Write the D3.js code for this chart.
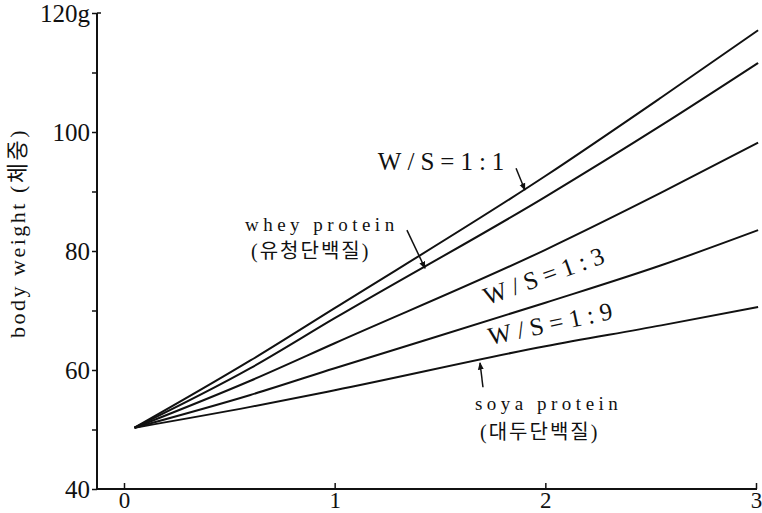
<!DOCTYPE html>
<html>
<head>
<meta charset="utf-8">
<script src="https://cdn.jsdelivr.net/npm/d3@7"></script>
<style>
  body { margin: 0; background: #fff; }
  svg text { font-family: "Liberation Serif", "Noto Sans CJK KR", serif; fill: #111; }
</style>
</head>
<body>
<div id="chart"></div>
<script>
// values
const weeks = [0.05, 0.6, 1, 2, 2.55, 3.01];
const wsOneOne = [50.3, 61.6, 70.4, 92.6, 105.8, 117.1];
const wheyProtein = [50.3, 60.3, 68.7, 89.1, 101.1, 111.6];
const wsOneThree = [50.3, 58.2, 64.5, 80.2, 89.8, 98.2];
const wsOneNine = [50.3, 55.8, 60.3, 71.3, 77.6, 83.5];
const soyaProtein = [50.3, 53.8, 56.6, 64.0, 67.5, 70.6];

const xTicks = [0, 1, 2, 3];
const yTicks = [40, 50, 60, 70, 80, 90, 100, 110, 120];
const yTickLabels = ["40", "", "60", "", "80", "", "100", "", "120g"];

const WIDTH = 762;
const HEIGHT = 513;

const svg = d3.select("#chart").append("svg")
  .attr("width", WIDTH)
  .attr("height", HEIGHT);

const x = d3.scaleLinear().domain([0, 3]).range([124, 756]);
const y = d3.scaleLinear().domain([40, 120]).range([489, 13]);

// y axis
const yAxis = svg.append("g")
  .attr("transform", "translate(97,0)")
  .call(d3.axisLeft(y).tickValues(yTicks).tickSize(5).tickSizeOuter(0)
    .tickFormat((d, i) => yTickLabels[i]));
yAxis.select(".domain").attr("stroke", "#111").attr("stroke-width", 2)
  .attr("d", `M0,${y(120)}V${y(40)}`);
yAxis.selectAll(".tick line").attr("stroke", "#111").attr("stroke-width", 1.5);
yAxis.selectAll(".tick text")
  .attr("x", -7)
  .attr("font-size", 25)
  .attr("font-family", "Liberation Serif")
  .attr("fill", "#111");
yAxis.append("line").attr("x1", 0).attr("x2", 4)
  .attr("y1", y(120)).attr("y2", y(120)).attr("stroke", "#111").attr("stroke-width", 1.5);

// x axis
const xAxis = svg.append("g")
  .attr("transform", `translate(0,${y(40)})`)
  .call(d3.axisBottom(x).tickValues(xTicks).tickSize(-6).tickSizeOuter(0).tickFormat(d3.format("d")));
xAxis.select(".domain").attr("stroke", "#111").attr("stroke-width", 2)
  .attr("d", `M97,0H${x(3) + 1}`);
xAxis.selectAll(".tick line").attr("stroke", "#111").attr("stroke-width", 1.5);
xAxis.selectAll(".tick text")
  .attr("y", 3)
  .attr("font-size", 23)
  .attr("font-family", "Liberation Serif")
  .attr("fill", "#111");

// y label
svg.append("text")
  .attr("transform", `translate(25,${(y(40) + y(120)) / 2 - 18}) rotate(-90)`)
  .attr("text-anchor", "middle")
  .attr("font-size", 22)
  .attr("letter-spacing", 2.5)
  .text("body weight (체중)");

// growth curves
const curves = [wsOneOne, wheyProtein, wsOneThree, wsOneNine, soyaProtein];
const line = d3.line()
  .x(d => x(d[0]))
  .y(d => y(d[1]))
  .curve(d3.curveMonotoneX);

svg.append("clipPath").attr("id", "clip")
  .append("rect").attr("x", 97).attr("y", 0).attr("width", WIDTH - 97).attr("height", HEIGHT);

svg.append("g").attr("clip-path", "url(#clip)")
  .selectAll("path")
  .data(curves.map(vals => vals.map((v, i) => [weeks[i], v])))
  .join("path")
  .attr("d", line)
  .attr("fill", "none")
  .attr("stroke", "#111")
  .attr("stroke-width", 2);

// labels
svg.append("defs").append("marker")
  .attr("id", "arrow")
  .attr("viewBox", "0 0 10 10")
  .attr("refX", 9).attr("refY", 5)
  .attr("markerWidth", 5).attr("markerHeight", 5)
  .attr("orient", "auto")
  .append("path").attr("d", "M0,1L10,5L0,9z").attr("fill", "#111");

function label(t, wx, wy, size, spacing, angle) {
  svg.append("text")
    .attr("transform", `translate(${x(wx)},${y(wy)}) rotate(${angle || 0})`)
    .attr("font-size", size)
    .attr("letter-spacing", spacing)
    .text(t);
}
function arrow(x1, y1, x2, y2) {
  svg.append("line")
    .attr("x1", x(x1)).attr("y1", y(y1))
    .attr("x2", x(x2)).attr("y2", y(y2))
    .attr("stroke", "#111").attr("stroke-width", 1.5)
    .attr("marker-end", "url(#arrow)");
}

label("W/S=1:1", 1.205, 93.6, 25, 6);
arrow(1.861, 93.9, 1.903, 90.25);

label("whey protein", 0.574, 83.4, 19, 4.5);
label("(유청단백질)", 0.603, 78.8, 20, 2);
arrow(1.343, 83.5, 1.429, 77.1);

label("W/S=1:3", 1.723, 70.9, 25, 6, -19.7);
label("W/S=1:9", 1.737, 64.2, 25, 6, -12);

label("soya protein", 1.666, 53.3, 19, 4.5);
label("(대두단백질)", 1.690, 48.4, 20, 2);
arrow(1.704, 57.1, 1.690, 61.2);
</script>
</body>
</html>
